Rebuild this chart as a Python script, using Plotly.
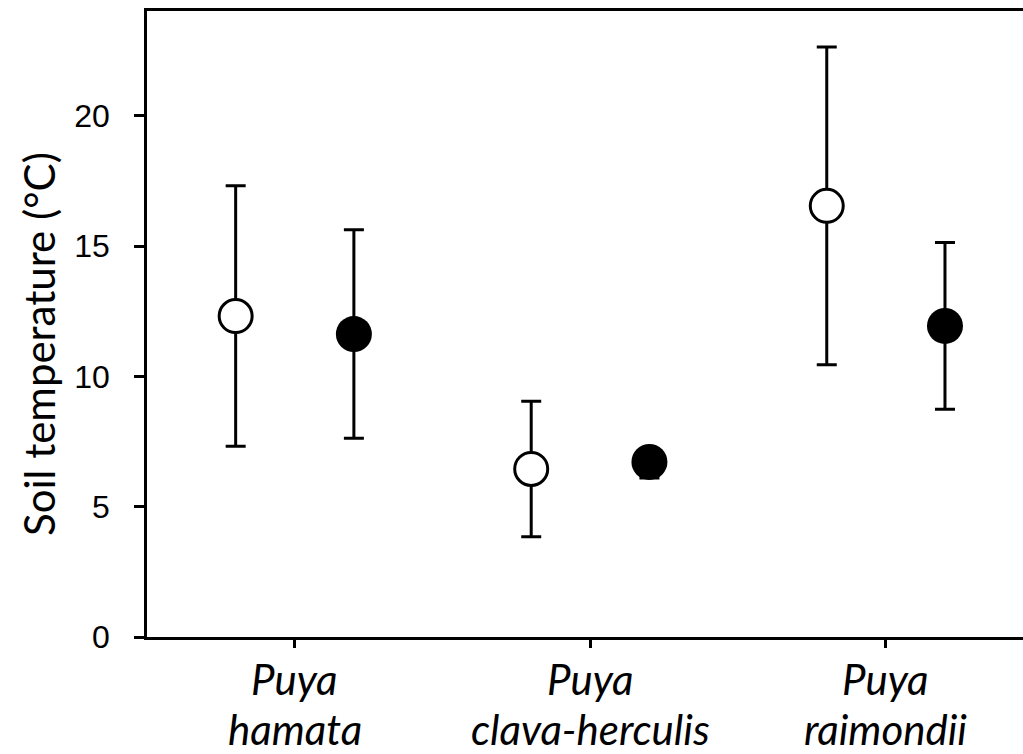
import plotly.graph_objects as go

genus = ["Puya", "Puya", "Puya"]
species = ["hamata", "clava-herculis", "raimondii"]
open_mean = [12.32, 6.45, 16.55]
open_err = [5.0, 2.6, 6.1]
filled_mean = [11.63, 6.72, 11.94]
filled_err_plus = [4.0, 0.45, 3.2]
filled_err_minus = [4.0, 0.62, 3.2]
y_ticks = [0, 5, 10, 15, 20]

offset = 0.2
xpos = list(range(len(species)))

fig = go.Figure()
fig.add_trace(go.Scatter(
    x=[p - offset for p in xpos], y=open_mean, mode="markers",
    marker=dict(symbol="circle", size=33, color="white", line=dict(color="black", width=3)),
    error_y=dict(type="data", array=open_err, color="black", thickness=3, width=10),
    showlegend=False, cliponaxis=False))
fig.add_trace(go.Scatter(
    x=[p + offset for p in xpos], y=filled_mean, mode="markers",
    marker=dict(symbol="circle", size=36, color="black", line=dict(width=0)),
    error_y=dict(type="data", array=filled_err_plus, arrayminus=filled_err_minus,
                 symmetric=False, color="black", thickness=3, width=10),
    showlegend=False, cliponaxis=False))

W, H = 1023, 754
L, R, T, B = 147, 0, 11, 117
PH = H - T - B
fig.update_layout(
    width=W, height=H, margin=dict(l=L, r=R, t=T, b=B, pad=0, autoexpand=False),
    paper_bgcolor="white", plot_bgcolor="white",
    xaxis=dict(range=[-0.5, 2.464], tickmode="array", tickvals=xpos, showticklabels=False,
               automargin=False,
               showgrid=False, zeroline=False, showline=True, linecolor="black", linewidth=2.5,
               mirror=True, ticks="outside", ticklen=8, tickwidth=2.5, tickcolor="black"),
    yaxis=dict(range=[0, 24.03], tickmode="array", tickvals=y_ticks, automargin=False,
               showgrid=False, zeroline=False, showline=True, linecolor="black", linewidth=2.5,
               ticks="outside", ticklen=10, tickwidth=2.5, tickcolor="black",
               tickfont=dict(family="Liberation Sans, Arial", size=32, color="black"),
               ticklabelstandoff=18),
)
lab_font = dict(family="Lato", size=42, color="black")
for xp, g, s in zip(xpos, genus, species):
    fig.add_annotation(text=f"<i>{g}</i>", x=xp, xref="x", yref="paper",
                       y=(637 - 679) / PH, xanchor="center", yanchor="middle",
                       showarrow=False, font=lab_font)
    fig.add_annotation(text=f"<i>{s}</i>", x=xp, xref="x", yref="paper",
                       y=(637 - 729) / PH, xanchor="center", yanchor="middle",
                       showarrow=False, font=lab_font)
fig.add_annotation(text="Soil temperature (°C)", textangle=-90, xref="paper", yref="paper",
                   x=(39 - L) / (W - L - R), y=(637 - 344) / PH, xanchor="center", yanchor="middle",
                   showarrow=False, font=dict(family="Lato", size=42, color="black"))

fig.write_html("out.html")
